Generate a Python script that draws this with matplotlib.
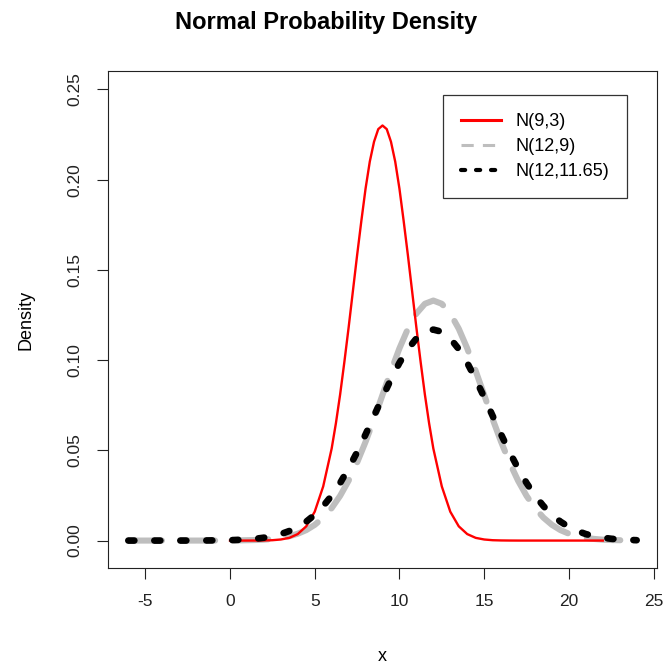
import matplotlib
matplotlib.use("Agg")
import matplotlib.pyplot as plt
from matplotlib.lines import Line2D

plt.rcParams['font.family'] = ['Liberation Sans', 'DejaVu Sans']

# x grid for the two wide curves (-6 .. 24, step 0.5)
x_wide = [i * 0.5 for i in range(-12, 49)]

# N(12,9)
gray_y = [0, 0, 0, 0, 0, 0, 0, 0, 0, 0, 0.00001, 0.00002,
          0.00004, 0.00009, 0.0002, 0.0003, 0.0005, 0.0009, 0.0015, 0.0024,
          0.0038, 0.0058, 0.0087, 0.0127, 0.0180, 0.0248, 0.0332, 0.0432,
          0.0547, 0.0673, 0.0807, 0.0940, 0.1065, 0.1174, 0.1258, 0.1312,
          0.1330,
          0.1312, 0.1258, 0.1174, 0.1065, 0.0940, 0.0807, 0.0673, 0.0547,
          0.0432, 0.0332, 0.0248, 0.0180, 0.0127, 0.0087, 0.0058, 0.0038,
          0.0024, 0.0015, 0.0009, 0.0005, 0.0003, 0.0002, 0.00009, 0.00004]

# N(12,11.65)
black_y = [0, 0, 0, 0, 0, 0.000004, 0.000007, 0.00001, 0.00003, 0.00005,
           0.0001, 0.00014,
           0.0002, 0.0004, 0.0006, 0.0010, 0.0016, 0.0024, 0.0036, 0.0053,
           0.0075, 0.0105, 0.0143, 0.0191, 0.0249, 0.0319, 0.0400, 0.0490,
           0.0588, 0.0691, 0.0794, 0.0894, 0.0985, 0.1061, 0.1120, 0.1157,
           0.1169,
           0.1157, 0.1120, 0.1061, 0.0985, 0.0894, 0.0794, 0.0691, 0.0588,
           0.0490, 0.0400, 0.0319, 0.0249, 0.0191, 0.0143, 0.0105, 0.0075,
           0.0053, 0.0036, 0.0024, 0.0016, 0.0010, 0.0006, 0.0004, 0.0002]

# N(9,3)
red_x = [0, 0.5, 1, 1.5, 2, 2.5, 3, 3.5, 4, 4.5, 5, 5.5,
         6, 6.25, 6.5, 6.75, 7, 7.25, 7.5, 7.75, 8, 8.25, 8.5, 8.75, 9,
         9.25, 9.5, 9.75, 10, 10.25, 10.5, 10.75, 11, 11.25, 11.5, 11.75, 12,
         12.5, 13, 13.5, 14, 14.5, 15, 15.5, 16, 16.5, 17, 17.5, 18, 18.5,
         19, 19.5, 20, 20.5, 21, 21.5, 22]
red_y = [0, 0, 0, 0.00002, 0.00007, 0.0002, 0.0006, 0.0015, 0.0036, 0.0079,
         0.016, 0.030,
         0.051, 0.065, 0.081, 0.099, 0.118, 0.138, 0.158, 0.177, 0.195,
         0.210, 0.221, 0.228, 0.230,
         0.228, 0.221, 0.210, 0.195, 0.177, 0.158, 0.138, 0.118, 0.099,
         0.081, 0.065, 0.051,
         0.030, 0.016, 0.0079, 0.0036, 0.0015, 0.0006, 0.0002, 0.00007,
         0.00002, 0, 0, 0, 0, 0, 0, 0, 0, 0, 0, 0]

labels = ['N(9,3)', 'N(12,9)', 'N(12,11.65)']
x_ticks = [-5, 0, 5, 10, 15, 20, 25]
y_ticks = [0.00, 0.05, 0.10, 0.15, 0.20, 0.25]

fig = plt.figure(figsize=(6.65, 6.64), dpi=100)
ax = fig.add_axes([108 / 665, 1 - 568 / 664, 549 / 665, 497 / 664])

ax.plot(x_wide, gray_y, color='#BEBEBE', lw=4.4, dashes=(5.5, 3.2),
        dash_capstyle='round')
ax.plot(red_x, red_y, color='#FF0000', lw=1.7)
ax.plot(x_wide, black_y, color='black', lw=4.8, dashes=(0.9, 3.0),
        dash_capstyle='round')

ax.set_xlim(-7.2, 25.2)
ax.set_ylim(-0.0152, 0.2602)
ax.set_xticks(x_ticks)
ax.set_xticklabels([str(t) for t in x_ticks])
ax.set_yticks(y_ticks)
ax.set_yticklabels(['%.2f' % t for t in y_ticks], rotation=90, va='center')

ax.tick_params(axis='both', direction='out', length=8, width=0.8,
               labelsize=12.5, colors='#222222')
ax.tick_params(axis='x', pad=11)
ax.tick_params(axis='y', pad=10.5)
for s in ax.spines.values():
    s.set_linewidth(0.8)
    s.set_color('#222222')

ax.set_xlabel('x', fontsize=13)
ax.set_ylabel('Density', fontsize=13)
ax.xaxis.set_label_coords(0.5, -0.16)
ax.yaxis.set_label_coords(-0.133, 0.5)

fig.text(326 / 665, 1 - 22 / 664, 'Normal Probability Density',
         ha='center', va='center', fontsize=17, fontweight='bold')

handles = [
    Line2D([], [], color='#FF0000', lw=2.2),
    Line2D([], [], color='#BEBEBE', lw=2.2, dashes=(4, 3)),
    Line2D([], [], color='black', lw=3, dashes=(1, 2.6), dash_capstyle='round'),
]
leg = ax.legend(handles, labels, loc='upper left',
                bbox_to_anchor=(443 / 665, 1 - 95 / 664),
                bbox_transform=fig.transFigure, borderaxespad=0,
                fontsize=13, fancybox=False, framealpha=1,
                edgecolor='#333333', handlelength=2.2, handletextpad=0.8,
                borderpad=1.0, labelspacing=0.45)
leg.get_frame().set_linewidth(0.9)

fig.savefig('out.png', dpi=100)
